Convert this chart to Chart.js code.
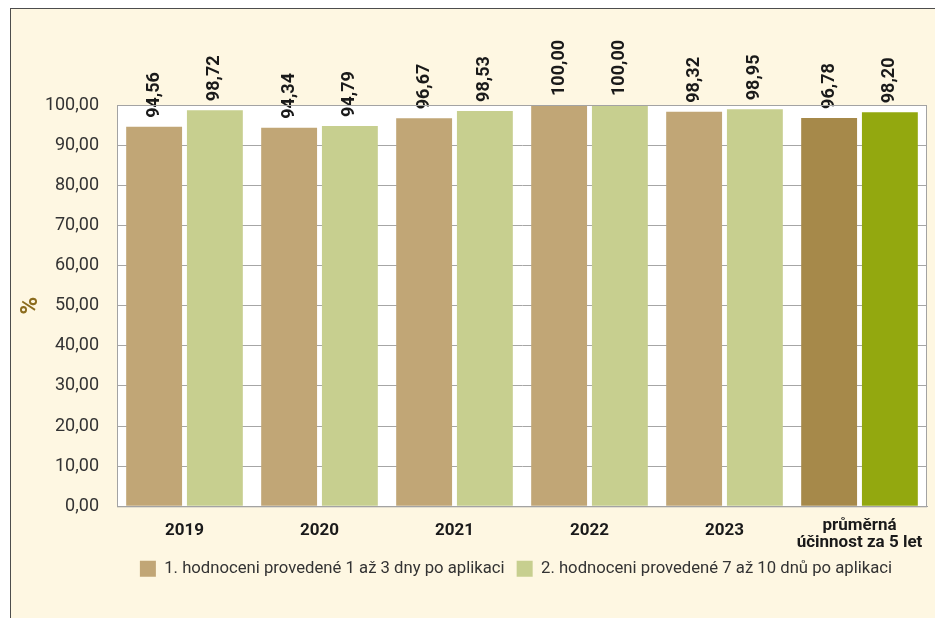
<!DOCTYPE html>
<html>
<head>
<meta charset="utf-8">
<script src="https://cdn.jsdelivr.net/npm/chart.js@4"></script>
<style>
  html, body { margin: 0; padding: 0; background: #ffffff; }
  .frame {
    position: absolute; left: 10px; top: 8px; width: 940px; height: 620px;
    border-top: 1.5px solid #4d4d4d; border-left: 1.5px solid #4d4d4d;
    background: #fef7e2;
  }
  .wrap { position: absolute; left: 0; top: 0; width: 935px; height: 618px; }
</style>
</head>
<body>
<div class="frame"></div>
<div class="wrap"><canvas id="chart" width="935" height="618"></canvas></div>
<script>
// categories and values
const categories = ['2019', '2020', '2021', '2022', '2023', ['průměrná', 'účinnost za 5 let']];
const firstEval = [94.56, 94.34, 96.67, 100.00, 98.32, 96.78];
const secondEval = [98.72, 94.79, 98.53, 100.00, 98.95, 98.20];
const seriesNames = [
  '1. hodnoceni provedené 1 až 3 dny po aplikaci',
  '2. hodnoceni provedené 7 až 10 dnů po aplikaci',
];

const brown = '#c1a676', brownDark = '#a6894a';
const green = '#c7cf8f', greenDark = '#93a80f';

const fmt = v => v.toFixed(2).replace('.', ',');

// white plot area + grey frame round it
const plotBox = {
  id: 'plotBox',
  beforeDraw(chart) {
    const { ctx, chartArea: a } = chart;
    ctx.save();
    ctx.fillStyle = '#ffffff';
    ctx.fillRect(a.left, a.top, a.right - a.left, a.bottom - a.top);
    ctx.restore();
  },
  afterDraw(chart) {
    const { ctx, chartArea: a } = chart;
    ctx.save();
    ctx.strokeStyle = '#a3a3a3';
    ctx.lineWidth = 1;
    ctx.strokeRect(a.left + 0.5, a.top + 0.5, a.right - a.left - 1, a.bottom - a.top);
    ctx.restore();
  },
};

// legend sits centred under the plot, not under the whole canvas
const legendShift = {
  id: 'legendShift',
  afterLayout(chart) {
    const lg = chart.legend;
    const dx = (chart.chartArea.left + chart.chartArea.right) / 2 - 6 - (lg.left + lg.right) / 2;
    lg.left += dx;
    lg.right += dx;
    lg.top -= 2;
    lg.bottom -= 2;
  },
};

// vertical value labels above each bar
const valueLabels = {
  id: 'valueLabels',
  afterDatasetsDraw(chart) {
    const ctx = chart.ctx;
    ctx.save();
    ctx.font = 'bold 18px Roboto';
    ctx.fillStyle = '#1a1a1a';
    ctx.textAlign = 'left';
    ctx.textBaseline = 'middle';
    chart.data.datasets.forEach((ds, i) => {
      chart.getDatasetMeta(i).data.forEach((bar, j) => {
        ctx.save();
        ctx.translate(bar.x, bar.y - 9);
        ctx.rotate(-Math.PI / 2);
        ctx.fillText(fmt(ds.data[j]), 0, 0);
        ctx.restore();
      });
    });
    ctx.restore();
  },
};

new Chart(document.getElementById('chart'), {
  type: 'bar',
  data: {
    labels: categories,
    datasets: [
      {
        label: seriesNames[0],
        data: firstEval,
        backgroundColor: [brown, brown, brown, brown, brown, brownDark],
        legendColor: brown,
      },
      {
        label: seriesNames[1],
        data: secondEval,
        backgroundColor: [green, green, green, green, green, greenDark],
        legendColor: green,
      },
    ],
  },
  options: {
    responsive: false,
    animation: false,
    categoryPercentage: 0.9,
    barPercentage: 0.92,
    layout: { padding: { left: 0, right: 8, top: 105, bottom: 29 } },
    plugins: {
      tooltip: { enabled: false },
      legend: {
        position: 'bottom',
        labels: {
          color: '#333333',
          font: { family: 'Roboto', size: 16.7 },
          boxWidth: 16,
          boxHeight: 16,
          padding: 12,
          generateLabels(chart) {
            return chart.data.datasets.map((ds, i) => ({
              text: ds.label,
              fillStyle: ds.legendColor,
              strokeStyle: ds.legendColor,
              lineWidth: 0,
              fontColor: '#333333',
              datasetIndex: i,
              hidden: false,
            }));
          },
        },
      },
    },
    scales: {
      x: {
        grid: { display: false, drawTicks: false },
        border: { color: '#a3a3a3' },
        ticks: {
          color: '#1a1a1a',
          font: c => ({
            family: 'Roboto', size: 17, weight: 'bold',
            lineHeight: Array.isArray(categories[c.index]) ? 1.0 : 1.6,
          }),
          padding: 11,
          maxRotation: 0,
        },
        afterFit(scale) { scale.height = 44; },
      },
      y: {
        min: 0,
        max: 100,
        grid: { color: '#a6a6a6', drawTicks: false },
        border: { color: '#a3a3a3' },
        ticks: {
          stepSize: 10,
          color: '#333333',
          font: { family: 'Roboto', size: 18 },
          padding: 18,
          callback: v => fmt(v),
        },
        title: {
          display: true,
          text: '%',
          color: '#8b6c1e',
          font: { family: 'Roboto', size: 24, weight: 'bold' },
          padding: { top: 17, bottom: 0 },
        },
        afterFit(scale) { scale.width = 117; },
      },
    },
  },
  plugins: [plotBox, legendShift, valueLabels],
});
</script>
</body>
</html>
